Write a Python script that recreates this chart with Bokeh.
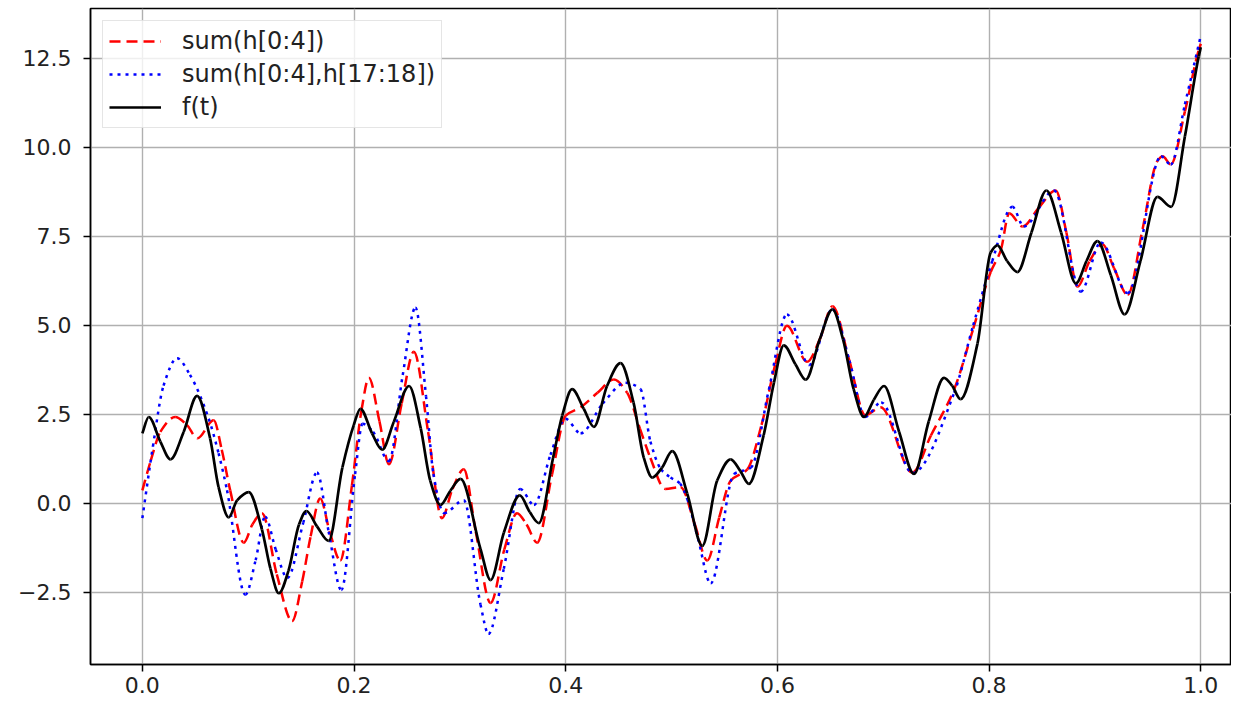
import numpy as np
from bokeh.plotting import figure
from bokeh.models import Range1d, FixedTicker, Legend, LegendItem, ColumnDataSource
from bokeh.embed import file_html
from bokeh.resources import INLINE

# ---- data ----
# f(t)
t_f = [0.000, 0.006, 0.017, 0.0265, 0.039, 0.0517, 0.064, 0.072, 0.0816, 0.0895, 0.1005,
       0.113, 0.121, 0.129, 0.138, 0.148, 0.155, 0.165, 0.176, 0.189, 0.1997, 0.206,
       0.217, 0.2265, 0.2375, 0.252, 0.263, 0.272, 0.2817, 0.291, 0.3006, 0.3195, 0.329,
       0.3415, 0.3566, 0.366, 0.3746, 0.388, 0.3967, 0.406, 0.417, 0.4266, 0.439, 0.4518,
       0.464, 0.4738, 0.4817, 0.491, 0.5006, 0.5148, 0.529, 0.543, 0.5558, 0.565, 0.573,
       0.587, 0.5967, 0.606, 0.617, 0.6267, 0.640, 0.652, 0.662, 0.672, 0.6818, 0.691,
       0.7007, 0.715, 0.729, 0.743, 0.7574, 0.765, 0.773, 0.789, 0.8015, 0.8078, 0.817,
       0.8267, 0.840, 0.8541, 0.868, 0.882, 0.892, 0.9023, 0.915, 0.928, 0.943, 0.959,
       0.972, 0.985, 0.998, 1.000]
y_f = [1.96, 2.42, 1.73, 1.23, 2.00, 3.01, 1.82, 0.45, -0.40, 0.08, 0.31,
       -0.74, -1.84, -2.53, -1.90, -0.60, -0.22, -0.65, -1.06, 1.00, 2.19, 2.65,
       1.96, 1.50, 2.28, 3.29, 2.10, 0.63, -0.05, 0.35, 0.68, -1.29, -2.16,
       -0.83, 0.22, -0.25, -0.56, 1.27, 2.46, 3.20, 2.65, 2.14, 3.29, 3.93,
       2.83, 1.27, 0.72, 1.00, 1.46, 0.27, -1.20, 0.63, 1.23, 0.90, 0.54,
       1.91, 3.38, 4.43, 3.90, 3.47, 4.60, 5.44, 4.60, 3.20, 2.42, 2.90,
       3.29, 2.00, 0.82, 2.30, 3.52, 3.30, 2.92, 4.48, 7.04, 7.24, 6.80,
       6.49, 7.60, 8.78, 7.60, 6.17, 6.80, 7.36, 6.40, 5.30, 6.80, 8.60,
       8.32, 10.30, 12.54, 12.80]

# sum(h[0:4])
t_a = [0.000, 0.008, 0.017, 0.031, 0.042, 0.052, 0.0674, 0.075, 0.083, 0.0958, 0.104,
       0.113, 0.127, 0.1415, 0.151, 0.159, 0.168, 0.177, 0.187, 0.198, 0.207, 0.214,
       0.224, 0.233, 0.245, 0.2565, 0.270, 0.283, 0.293, 0.3037, 0.315, 0.329, 0.342,
       0.354, 0.363, 0.373, 0.387, 0.400, 0.414, 0.430, 0.4455, 0.458, 0.470, 0.480,
       0.494, 0.5085, 0.522, 0.5337, 0.545, 0.5558, 0.5715, 0.585, 0.598, 0.609, 0.628,
       0.640, 0.652, 0.668, 0.683, 0.6975, 0.7275, 0.745, 0.767, 0.785, 0.8015, 0.811,
       0.819, 0.8315, 0.847, 0.863, 0.873, 0.8835, 0.895, 0.907, 0.918, 0.931, 0.945,
       0.959, 0.964, 0.9716, 0.985, 0.998, 1.000]
y_a = [0.36, 1.20, 2.00, 2.42, 2.20, 1.82, 2.33, 1.50, 0.36, -1.11, -0.60,
       -0.28, -2.00, -3.31, -2.20, -0.93, 0.13, -0.80, -1.61, 0.50, 2.60, 3.52,
       2.30, 1.09, 2.80, 4.25, 2.00, -0.42, 0.40, 0.95, -0.80, -2.80, -1.30,
       -0.28, -0.60, -1.11, 0.80, 2.46, 2.69, 3.10, 3.47, 3.10, 2.10, 1.27,
       0.40, 0.45, -0.60, -1.61, -0.40, 0.63, 0.95, 2.20, 3.90, 4.98, 3.97,
       4.60, 5.53, 4.00, 2.47, 2.69, 0.86, 1.90, 3.20, 4.90, 6.49, 7.10,
       8.14, 7.77, 8.30, 8.78, 7.60, 6.08, 6.80, 7.27, 6.60, 5.85, 7.70,
       9.61, 9.74, 9.51, 11.00, 12.72, 12.90]

# sum(h[0:4],h[17:18])
t_b = [0.000, 0.010, 0.020, 0.0328, 0.045, 0.0627, 0.072, 0.080, 0.0973, 0.107, 0.116,
       0.126, 0.137, 0.152, 0.165, 0.176, 0.188, 0.201, 0.208, 0.218, 0.233, 0.246,
       0.258, 0.268, 0.275, 0.285, 0.3037, 0.3195, 0.327, 0.3415, 0.357, 0.370, 0.3856,
       0.3998, 0.414, 0.435, 0.4565, 0.4707, 0.480, 0.490, 0.499, 0.508, 0.515, 0.525,
       0.537, 0.559, 0.575, 0.592, 0.609, 0.630, 0.652, 0.668, 0.683, 0.698, 0.7275,
       0.767, 0.785, 0.803, 0.822, 0.8327, 0.8614, 0.8866, 0.9055, 0.931, 0.9625, 0.9716,
       0.985, 0.9993]
y_b = [-0.42, 1.60, 3.30, 4.07, 3.60, 2.37, 1.40, 0.36, -2.57, -1.60, -0.38,
       -1.30, -2.10, -0.55, 0.86, -0.80, -2.44, 0.82, 2.23, 2.00, 1.18, 3.60,
       5.49, 3.00, 0.82, -0.28, 0.08, -2.85, -3.67, -1.84, 0.40, -0.05, 1.36,
       2.37, 1.96, 2.80, 3.38, 3.20, 1.73, 0.95, 0.72, 0.55, 0.10, -1.00,
       -2.25, 0.82, 1.00, 3.20, 5.30, 3.88, 5.44, 4.00, 2.42, 2.83, 0.85,
       3.10, 5.00, 6.80, 8.32, 7.77, 8.78, 5.94, 7.32, 5.90, 9.74, 9.51,
       11.20, 13.04]

x_ticks = [0.0, 0.2, 0.4, 0.6, 0.8, 1.0]
x_tick_labels = ["0.0", "0.2", "0.4", "0.6", "0.8", "1.0"]
y_ticks = [-2.5, 0.0, 2.5, 5.0, 7.5, 10.0, 12.5]
y_tick_labels = ["\u22122.5", "0.0", "2.5", "5.0", "7.5", "10.0", "12.5"]

legend_labels = ["sum(h[0:4])", "sum(h[0:4],h[17:18])", "f(t)"]

FONT = "DejaVu Sans"


def smooth_segments(x, y):
    """Cubic Bezier segments through the read points (monotone tangents,
    flat at the turning points) so that Bokeh draws a smooth curve."""
    x = np.asarray(x, float)
    y = np.asarray(y, float)
    h = np.diff(x)
    d = np.diff(y) / h
    m = np.zeros(len(x))
    for i in range(1, len(x) - 1):
        if d[i - 1] * d[i] > 0:
            w1 = 2 * h[i] + h[i - 1]
            w2 = h[i] + 2 * h[i - 1]
            m[i] = (w1 + w2) / (w1 / d[i - 1] + w2 / d[i])
    m[0] = d[0]
    m[-1] = d[-1]
    return ColumnDataSource(dict(
        x0=x[:-1], y0=y[:-1], x1=x[1:], y1=y[1:],
        cx0=x[:-1] + h / 3, cy0=y[:-1] + m[:-1] * h / 3,
        cx1=x[1:] - h / 3, cy1=y[1:] - m[1:] * h / 3))


p = figure(width=1231, height=701, output_backend="svg", toolbar_location=None,
           x_range=Range1d(-0.049, 1.029), y_range=Range1d(-4.53, 13.89),
           min_border_left=90, min_border_right=0, min_border_top=8, min_border_bottom=37)
p.background_fill_color = "white"
p.border_fill_color = "white"
p.outline_line_color = "black"
p.outline_line_width = 1.5

p.xaxis.ticker = FixedTicker(ticks=x_ticks)
p.yaxis.ticker = FixedTicker(ticks=y_ticks)
p.xaxis.major_label_overrides = {k: v for k, v in zip(x_ticks, x_tick_labels)}
p.yaxis.major_label_overrides = {k: v for k, v in zip(y_ticks, y_tick_labels)}
for ax in (p.xaxis, p.yaxis):
    ax.major_label_text_font = FONT
    ax.major_label_text_font_size = "22px"
    ax.major_label_text_color = "#222222"
    ax.axis_line_color = "black"
    ax.axis_line_width = 1.5
    ax.major_tick_line_color = "black"
    ax.major_tick_line_width = 1.5
    ax.major_tick_in = 0
    ax.major_tick_out = 7
    ax.minor_tick_line_color = None
p.xaxis.major_label_standoff = 5
p.yaxis.major_label_standoff = 12

p.grid.grid_line_color = "#b0b0b0"
p.grid.grid_line_width = 1.4

style_a = dict(line_color="#ff0000", line_width=2.5, line_dash="11 6")
style_b = dict(line_color="#0000ff", line_width=2.5, line_dash="3 5")
style_f = dict(line_color="black", line_width=2.7)

bz = dict(x0="x0", y0="y0", x1="x1", y1="y1", cx0="cx0", cy0="cy0", cx1="cx1", cy1="cy1")
r_a = p.bezier(source=smooth_segments(t_a, y_a), **bz, **style_a)
r_b = p.bezier(source=smooth_segments(t_b, y_b), **bz, **style_b)
r_f = p.bezier(source=smooth_segments(t_f, y_f), **bz, **style_f)

legend = Legend(items=[LegendItem(label=legend_labels[0], renderers=[r_a], index=0),
                       LegendItem(label=legend_labels[1], renderers=[r_b], index=0),
                       LegendItem(label=legend_labels[2], renderers=[r_f], index=0)],
                location="top_left")
legend.label_text_font = FONT
legend.label_text_font_size = "24px"
legend.label_text_color = "#222222"
legend.glyph_width = 52
legend.glyph_height = 26
legend.label_height = 26
legend.label_standoff = 21
legend.padding = 6
legend.spacing = 5
legend.margin = 12
legend.border_line_color = "#cccccc"
legend.border_line_width = 1.5
legend.background_fill_alpha = 0.8
p.add_layout(legend)

open("out.html", "w").write(file_html(p, INLINE))
